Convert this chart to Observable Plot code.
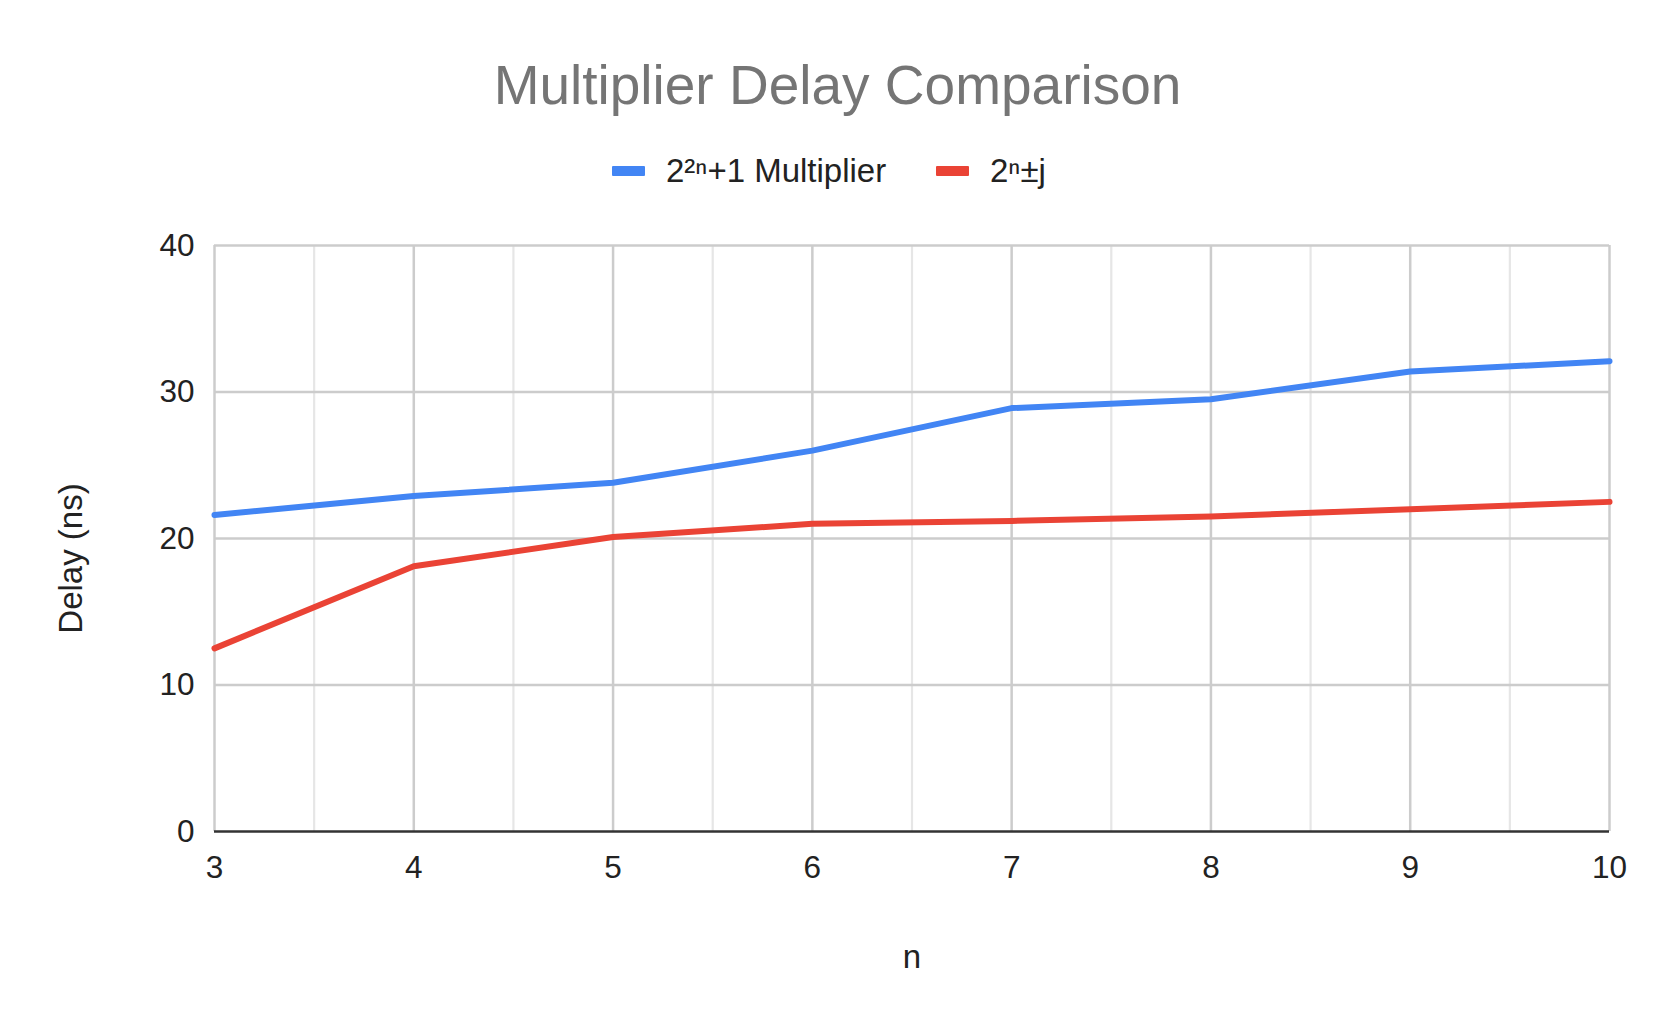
<!DOCTYPE html>
<html><head><meta charset="utf-8">
<script src="https://cdn.jsdelivr.net/npm/d3@7"></script>
<script src="https://cdn.jsdelivr.net/npm/@observablehq/plot@0.6"></script>
<style>
body{margin:0;background:#fff;font-family:"Liberation Sans",Arial,sans-serif;}
#wrap{position:relative;width:1661px;height:1027px;overflow:hidden;background:#fff;}
#title{position:absolute;left:7px;top:58px;width:1661px;text-align:center;font-size:55px;line-height:1;color:#757575;white-space:nowrap;}
.sw{position:absolute;top:166px;width:33px;height:10px;border-radius:1px;}
.lt{position:absolute;top:154px;font-size:33px;line-height:34px;color:#222;white-space:nowrap;}
#chart{position:absolute;left:0;top:200px;}
</style></head>
<body><div id="wrap">
<div id="title">Multiplier Delay Comparison</div>
<div id="legend"></div>
<div id="chart"></div>
</div>
<script>
const nValues = [3, 4, 5, 6, 7, 8, 9, 10];
const multiplierDelay = [21.6, 22.9, 23.8, 26.0, 28.9, 29.5, 31.4, 32.1];
const pmjDelay = [12.5, 18.1, 20.1, 21.0, 21.2, 21.5, 22.0, 22.5];
const seriesNames = ["2²ⁿ+1 Multiplier", "2ⁿ±j"];
const seriesColors = ["#4285F4", "#EA4335"];
const yTicks = [0, 10, 20, 30, 40];
const xTicks = [3, 4, 5, 6, 7, 8, 9, 10];
const xMinorTicks = [3.5, 4.5, 5.5, 6.5, 7.5, 8.5, 9.5];

const rows = nValues.flatMap((n, i) => [
  {n, delay: multiplierDelay[i], series: seriesNames[0]},
  {n, delay: pmjDelay[i], series: seriesNames[1]}
]);

// legend
const legend = document.getElementById("legend");
const legendPos = [[612, 666], [936, 990]];
seriesNames.forEach((name, i) => {
  const sw = document.createElement("div");
  sw.className = "sw"; sw.style.left = legendPos[i][0] + "px"; sw.style.background = seriesColors[i];
  const t = document.createElement("div");
  t.className = "lt"; t.style.left = legendPos[i][1] + "px"; t.textContent = name;
  legend.appendChild(sw); legend.appendChild(t);
});

const font = "'Liberation Sans', Arial, sans-serif";
const chart = Plot.plot({
  width: 1661,
  height: 827,
  marginLeft: 214,
  marginRight: 52,
  marginTop: 45,
  marginBottom: 196,
  x: {domain: [3, 10]},
  y: {domain: [0, 40]},
  color: {domain: seriesNames, range: seriesColors},
  style: {fontFamily: font, fontSize: "31.5px", color: "#222", background: "#fff", overflow: "visible"},
  marks: [
    Plot.ruleX(xMinorTicks, {stroke: "#e6e6e6", strokeWidth: 2.2}),
    Plot.ruleX(xTicks, {stroke: "#cccccc", strokeWidth: 2.5}),
    Plot.ruleY(yTicks.filter(d => d > 0), {stroke: "#cccccc", strokeWidth: 2.5}),
    Plot.line(rows, {x: "n", y: "delay", z: "series", stroke: "series", strokeWidth: 6}),
    Plot.ruleY([0], {stroke: "#333333", strokeWidth: 2.5}),
    Plot.axisX({ticks: xTicks, tickSize: 0, tickPadding: 24, tickFormat: d => String(d), label: null, fontSize: 31.5}),
    Plot.axisY({ticks: yTicks, tickSize: 0, tickPadding: 20, tickFormat: d => String(d), label: null, fontSize: 31.5}),
    Plot.text(["n"], {frameAnchor: "bottom", dy: 136, fontSize: 33, fill: "#222"}),
    Plot.text(["Delay (ns)"], {frameAnchor: "left", textAnchor: "middle", rotate: -90, dx: -143, dy: 20, fontSize: 33, fill: "#222"})
  ]
});
document.getElementById("chart").appendChild(chart);
</script>
</body></html>
